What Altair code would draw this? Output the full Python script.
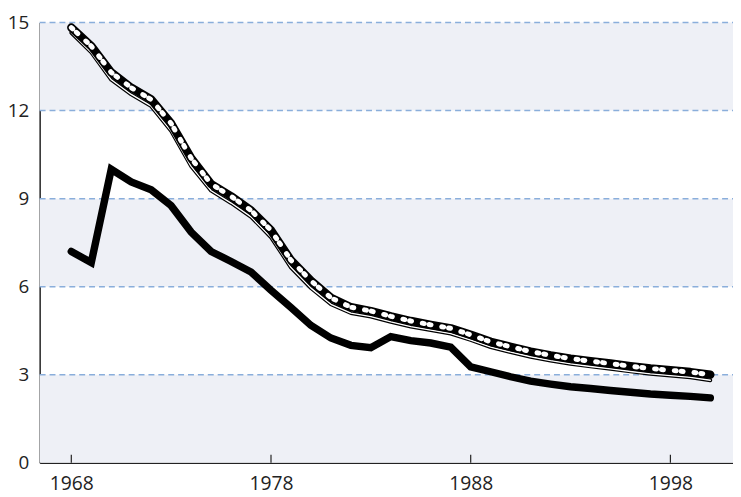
import altair as alt
import pandas as pd

years = list(range(1968, 2001))
series_dotted = [14.83, 14.2, 13.3, 12.78, 12.38, 11.56, 10.38, 9.5, 9.08, 8.6, 7.92, 6.9, 6.2,
                 5.62, 5.3, 5.17, 4.99, 4.83, 4.7, 4.58, 4.36, 4.12, 3.95, 3.79, 3.66, 3.55,
                 3.46, 3.38, 3.29, 3.21, 3.15, 3.09, 3.0]
series_thin = [14.65, 13.98, 13.05, 12.55, 12.15, 11.3, 10.1, 9.27, 8.85, 8.38, 7.68, 6.65, 5.95,
               5.4, 5.1, 4.98, 4.8, 4.64, 4.52, 4.4, 4.18, 3.94, 3.77, 3.61, 3.48, 3.37,
               3.28, 3.2, 3.11, 3.03, 2.97, 2.91, 2.81]
series_solid = [7.2, 6.82, 10.0, 9.57, 9.3, 8.76, 7.86, 7.2, 6.86, 6.5, 5.88, 5.29, 4.68,
                4.25, 4.0, 3.92, 4.3, 4.16, 4.08, 3.94, 3.27, 3.1, 2.93, 2.78, 2.68, 2.59,
                2.53, 2.46, 2.4, 2.34, 2.3, 2.26, 2.21]

y_ticks = [0, 3, 6, 9, 12, 15]
x_ticks = [1968, 1978, 1988, 1998]
band_lo = [0, 6, 12]
band_hi = [3, 9, 15]
grid_vals = [3, 6, 9, 12, 15]

W, H = 701, 445
FONT = "Open Sans"

df = pd.DataFrame({"year": years, "a": series_dotted, "b": series_thin, "c": series_solid})
bands = pd.DataFrame({"lo": band_lo, "hi": band_hi})
grid = pd.DataFrame({"v": grid_vals})
ticks = pd.DataFrame({"t": x_ticks})

xscale = alt.Scale(domain=[1966.415, 2001.135], nice=False, zero=False)
yscale = alt.Scale(domain=[0, 15], nice=False)

x_axis = alt.Axis(values=x_ticks, format="d", grid=False, ticks=False, domainColor="#222222",
                  domainWidth=1.5, labelFont=FONT, labelFontSize=19.5, labelColor="#222222",
                  labelPadding=12, title=None)
y_axis = alt.Axis(values=y_ticks, grid=False, ticks=False, domainColor="#222222",
                  domainWidth=1.5, labelFont=FONT, labelFontSize=19, labelColor="#222222",
                  labelPadding=11, title=None)

band_layer = alt.Chart(bands).mark_rect(color="#eef0f6").encode(
    x=alt.value(0), x2=alt.value(W),
    y=alt.Y("lo:Q", scale=yscale, axis=y_axis), y2="hi:Q")

grid_layer = alt.Chart(grid).mark_rule(color="#8aaedb", strokeWidth=1.5, strokeDash=[6, 4]).encode(
    x=alt.value(0), x2=alt.value(W), y=alt.Y("v:Q", scale=yscale))

tick_layer = alt.Chart(ticks).mark_rule(color="#222222", strokeWidth=1.2).encode(
    x=alt.X("t:Q", scale=xscale, axis=x_axis), y=alt.value(H), y2=alt.value(H - 8))

base = alt.Chart(df).encode(x=alt.X("year:Q", scale=xscale, axis=x_axis))

solid = base.mark_line(color="black", strokeWidth=7.5, strokeCap="round").encode(
    y=alt.Y("c:Q", scale=yscale, axis=y_axis))
thin_black = base.mark_line(color="black", strokeWidth=3.8, strokeCap="round", strokeJoin="round").encode(
    y=alt.Y("b:Q", scale=yscale))
thin_white = base.mark_line(color="white", strokeWidth=1.4, strokeCap="round", strokeJoin="round").encode(
    y=alt.Y("b:Q", scale=yscale))
dot_black = base.mark_line(color="black", strokeWidth=8.5, strokeCap="round", strokeJoin="round").encode(
    y=alt.Y("a:Q", scale=yscale))
dot_white = base.mark_line(color="white", strokeWidth=5, strokeCap="round", strokeJoin="round",
                           strokeDash=[2, 5, 2, 11]).encode(y=alt.Y("a:Q", scale=yscale))

chart = alt.layer(band_layer, grid_layer, tick_layer, solid, thin_black, thin_white,
                  dot_black, dot_white).properties(
    width=W, height=H,
    autosize=alt.AutoSizeParams(type="none"),
    padding={"left": 32, "top": 12, "right": 0, "bottom": 40},
).configure_view(stroke=None)

chart.save("out.html", embed_options={"renderer": "svg", "actions": False})
